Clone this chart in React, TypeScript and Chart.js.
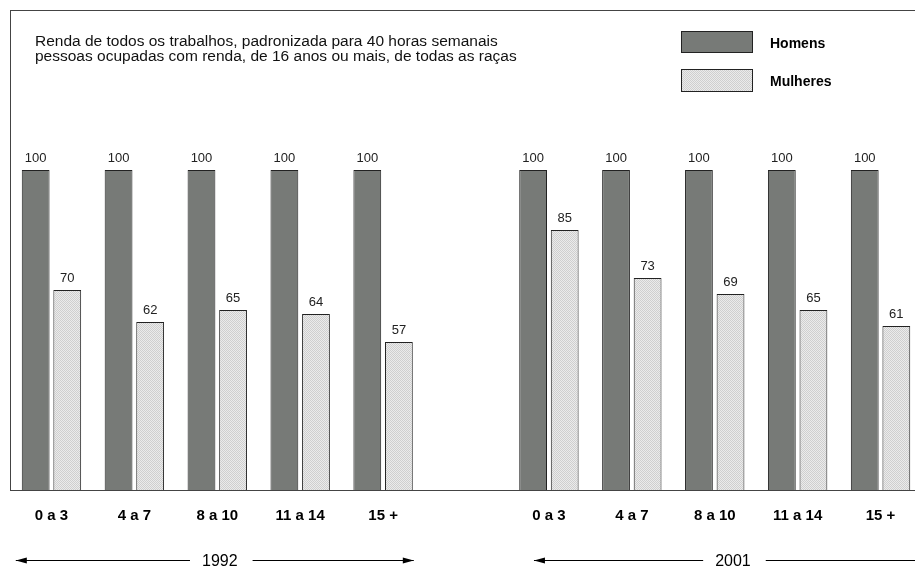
import React, { useEffect, useRef } from "react";
import { Chart, registerables } from "chart.js";

Chart.register(...registerables);

const categories = ["0 a 3", "4 a 7", "8 a 10", "11 a 14", "15 +", "", "0 a 3", "4 a 7", "8 a 10", "11 a 14", "15 +"];
const homens = [100, 100, 100, 100, 100, null, 100, 100, 100, 100, 100];
const mulheres = [70, 62, 65, 64, 57, null, 85, 73, 69, 65, 61];
const seriesNames = ["Homens", "Mulheres"];
const titleLines = [
  "Renda de todos os trabalhos, padronizada para 40 horas semanais",
  "pessoas ocupadas com renda, de 16 anos ou mais, de todas as raças",
];
const periods = ["1992", "2001"];

const FONT = '"Liberation Sans", Arial, sans-serif';
const DARK = "#777a77";
const EDGE = "#222222";

function makePattern(): CanvasPattern | string {
  const c = document.createElement("canvas");
  c.width = 2;
  c.height = 2;
  const g = c.getContext("2d");
  if (!g) return "#dddddd";
  g.fillStyle = "#ebebeb";
  g.fillRect(0, 0, 2, 2);
  g.fillStyle = "#cfcfcf";
  g.fillRect(0, 0, 1, 1);
  g.fillRect(1, 1, 1, 1);
  const p = g.createPattern(c, "repeat");
  return p || "#dddddd";
}

export default function App() {
  const ref = useRef<HTMLCanvasElement | null>(null);

  useEffect(() => {
    if (!ref.current) return;
    const pattern = makePattern();

    const decor = {
      id: "decor",
      afterDatasetsDraw(chart: any) {
        const ctx = chart.ctx;
        ctx.save();
        ctx.font = "13px " + FONT;
        ctx.fillStyle = "#222";
        ctx.textAlign = "center";
        ctx.textBaseline = "alphabetic";
        chart.data.datasets.forEach((ds: any, di: number) => {
          const meta = chart.getDatasetMeta(di);
          meta.data.forEach((el: any, i: number) => {
            const v = ds.data[i];
            if (v == null) return;
            ctx.fillText(String(v), el.x, el.y - 8);
          });
        });
        ctx.restore();
      },
      afterDraw(chart: any) {
        const ctx = chart.ctx;
        const a = chart.chartArea;
        const xs = chart.scales.x;
        ctx.save();
        // box
        ctx.strokeStyle = "#444";
        ctx.lineWidth = 1;
        ctx.strokeRect(Math.round(a.left) + 0.5, Math.round(a.top) + 0.5, Math.round(a.right - a.left), Math.round(a.bottom - a.top));
        // title
        ctx.fillStyle = "#111";
        ctx.font = "15.5px " + FONT;
        ctx.textAlign = "left";
        ctx.textBaseline = "alphabetic";
        ctx.fillText(titleLines[0], a.left + 25, 46);
        ctx.fillText(titleLines[1], a.left + 25, 61);
        // legend
        const lx = 681;
        const boxes = [
          { y: 31, h: 22, fill: DARK },
          { y: 69, h: 23, fill: pattern },
        ];
        boxes.forEach((b, i) => {
          ctx.fillStyle = b.fill as any;
          ctx.fillRect(lx, b.y, 72, b.h);
          ctx.strokeStyle = EDGE;
          ctx.strokeRect(lx + 0.5, b.y + 0.5, 71, b.h - 1);
          ctx.fillStyle = "#000";
          ctx.font = "bold 14px " + FONT;
          ctx.fillText(seriesNames[i], 770, i === 0 ? 48 : 86);
        });
        // period arrows
        const cw = xs.getPixelForValue(1) - xs.getPixelForValue(0);
        const centers = [xs.getPixelForValue(2) - 0.03 * cw, xs.getPixelForValue(8) + 0.22 * cw];
        const textShift = [5, 0];
        const half = 199;
        const ly = 560.5;
        ctx.font = "16px " + FONT;
        ctx.textAlign = "center";
        ctx.fillStyle = "#000";
        ctx.strokeStyle = "#000";
        centers.forEach((c, i) => {
          const tc = c + textShift[i];
          const tw = ctx.measureText(periods[i]).width;
          ctx.fillText(periods[i], tc, 566);
          const l = c - half;
          const r = c + half;
          ctx.beginPath();
          ctx.moveTo(l, ly);
          ctx.lineTo(tc - tw / 2 - 12, ly);
          ctx.moveTo(tc + tw / 2 + 15, ly);
          ctx.lineTo(r, ly);
          ctx.stroke();
          // arrowheads
          ctx.beginPath();
          ctx.moveTo(l, ly);
          ctx.lineTo(l + 11, ly - 3);
          ctx.lineTo(l + 11, ly + 3);
          ctx.closePath();
          ctx.fill();
          ctx.beginPath();
          ctx.moveTo(r, ly);
          ctx.lineTo(r - 11, ly - 3);
          ctx.lineTo(r - 11, ly + 3);
          ctx.closePath();
          ctx.fill();
        });
        ctx.restore();
      },
    };

    const chart = new Chart(ref.current, {
      type: "bar",
      data: {
        labels: categories,
        datasets: [
          {
            label: seriesNames[0],
            data: homens,
            backgroundColor: DARK,
            borderColor: EDGE,
            borderWidth: 1,
            categoryPercentage: 0.762,
            barPercentage: 0.88,
          },
          {
            label: seriesNames[1],
            data: mulheres,
            backgroundColor: pattern as any,
            borderColor: EDGE,
            borderWidth: 1,
            categoryPercentage: 0.762,
            barPercentage: 0.88,
          },
        ],
      },
      options: {
        responsive: false,
        animation: false,
        layout: { padding: { left: 10, top: 10, right: 10, bottom: 0 } },
        plugins: {
          legend: { display: false },
          tooltip: { enabled: false },
          title: { display: false },
        },
        scales: {
          x: {
            grid: { display: false, drawTicks: false },
            border: { display: false },
            ticks: {
              color: "#000",
              font: { family: FONT, size: 15, weight: "bold" },
              padding: 17,
              maxRotation: 0,
              autoSkip: false,
            },
            afterFit: (axis: any) => {
              axis.height = 78;
            },
          },
          y: {
            display: false,
            min: 20,
            max: 140,
          },
        },
      },
      plugins: [decor],
    } as any);

    return () => chart.destroy();
  }, []);

  return (
    <div style={{ position: "fixed", left: 0, top: 0, width: 915, height: 568, overflow: "hidden", background: "#fff" }}>
      <canvas ref={ref} width={932} height={568} style={{ width: 932, height: 568, display: "block" }} />
    </div>
  );
}
